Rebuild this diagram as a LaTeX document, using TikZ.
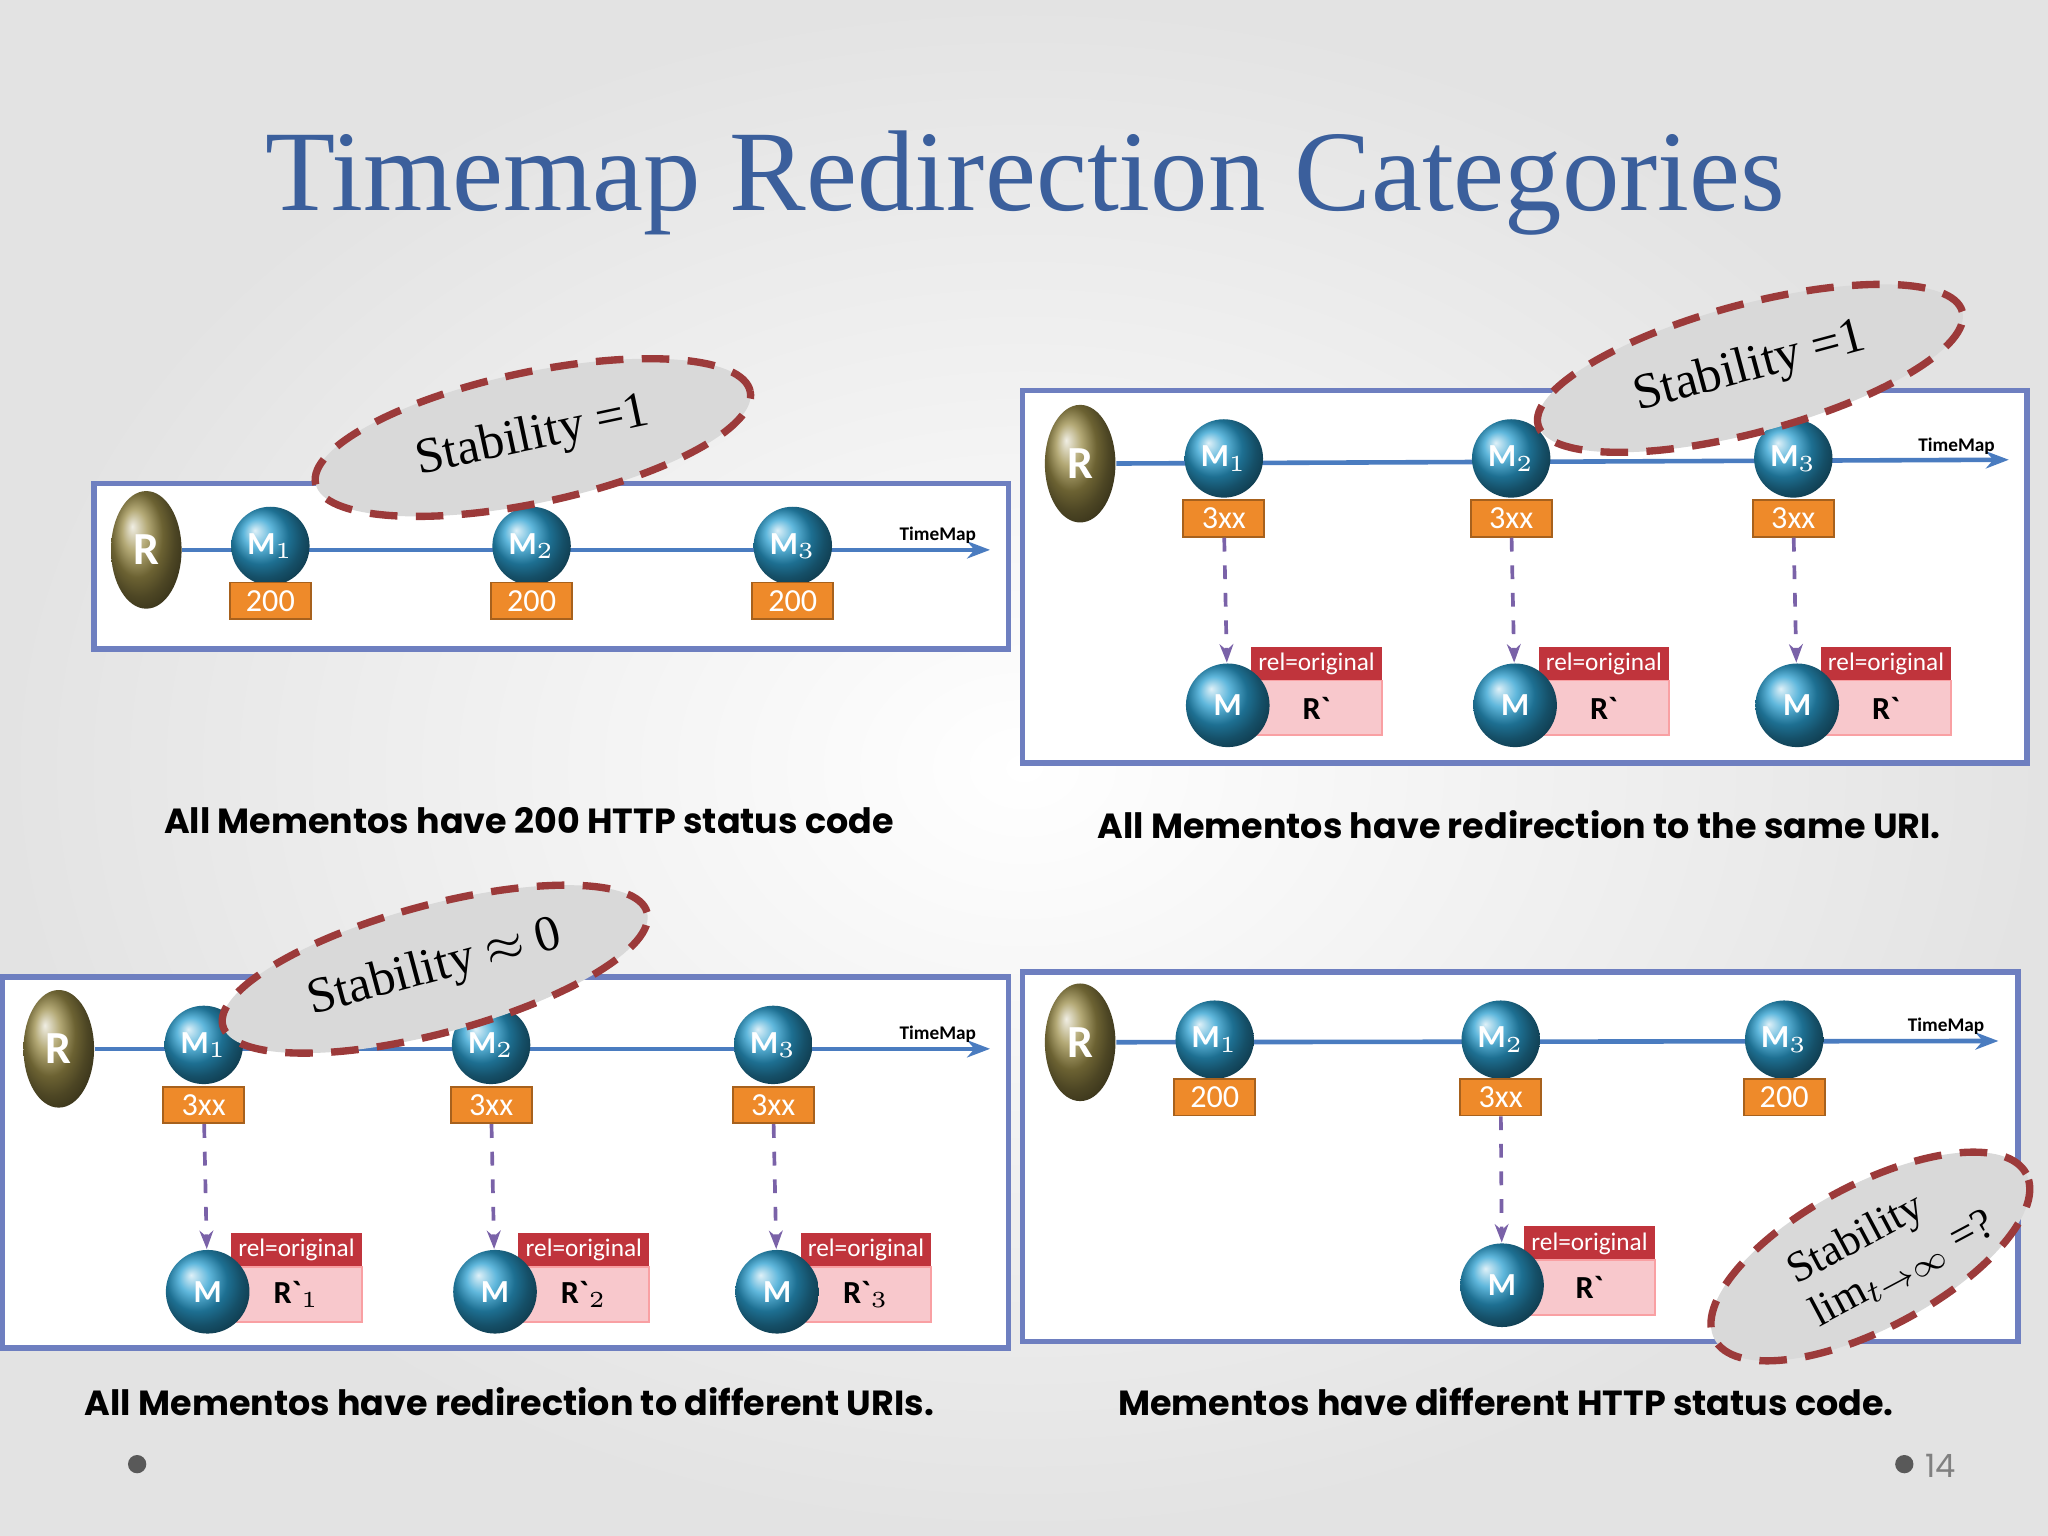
\documentclass[tikz,border=0pt]{standalone}
\usepackage{fontspec}
\setmainfont{Liberation Serif}
\newfontfamily\capf{Poppins}
\newfontfamily\lblf{Carlito}
\usetikzlibrary{arrows.meta,shapes.geometric}
\definecolor{titleblue}{HTML}{3B5F9C}
\definecolor{olive}{HTML}{9A8C48}
\definecolor{mblue}{HTML}{2A9FD0}
\definecolor{orng}{HTML}{EE8A2A}
\definecolor{lineblue}{HTML}{4A7CC0}
\definecolor{frameblue}{HTML}{6E7FC0}
\definecolor{relred}{HTML}{C0343C}
\definecolor{pinkbox}{HTML}{F8C8CC}
\definecolor{dashred}{HTML}{9C3A3A}
\definecolor{arrowpurple}{HTML}{7A62A8}
\tikzset{
 x=0.01cm,y=-0.01cm,
 panel/.style={draw=frameblue,line width=1.2pt,fill=white},
 rnode/.style={ellipse,minimum width=0.54cm,minimum height=0.9cm,inner sep=0,shading=ball,ball color=olive,text=white,font=\lblf\bfseries\fontsize{10}{10}\selectfont},
 mnode/.style={circle,minimum size=0.6cm,inner sep=0,shading=ball,ball color=mblue,text=white,font=\lblf\bfseries\fontsize{7}{7}\selectfont},
 mbig/.style={circle,minimum size=0.64cm,inner sep=0,shading=ball,ball color=mblue,text=white,font=\lblf\bfseries\fontsize{7}{7}\selectfont},
 code/.style={fill=orng,draw=orng!70!black,minimum width=0.62cm,minimum height=0.28cm,inner sep=0,text=white,font=\lblf\fontsize{7}{7}\selectfont},
 tline/.style={lineblue,line width=1pt,-{Stealth[length=5pt]}},
 tmlab/.style={font=\lblf\bfseries\fontsize{4.2}{4.2}\selectfont},
 relbox/.style={fill=relred,minimum width=1cm,minimum height=0.26cm,inner sep=0,text=white,font=\lblf\fontsize{5.5}{5.5}\selectfont},
 pbox/.style={fill=pinkbox,draw=pinkbox!80!red,minimum width=1cm,minimum height=0.42cm,inner sep=0,font=\lblf\bfseries\fontsize{7}{7}\selectfont},
 redir/.style={arrowpurple,dashed,line width=0.8pt,-{Stealth[length=4pt]}},
 stab/.style={ellipse,draw=dashred,dash pattern=on 6pt off 4pt,line width=1.6pt,fill=gray!30,inner sep=0},
 stabtext/.style={font=\fontsize{11}{11}\selectfont},
 captext/.style={font=\capf\fontsize{7.6}{7.6}\selectfont\bfseries}
}
\begin{document}
\begin{tikzpicture}
\shade[inner color=white,outer color=gray!22] (0,0) rectangle (1568,1176);
\useasboundingbox (0,0) rectangle (1568,1176);
\node[text=titleblue,font=\fontsize{25}{25}\selectfont] (title) at (785,140) {Timemap Redirection Categories};
% Panel 1
\draw[panel] (72,370) rectangle (772,497);
\node[rnode] (r1) at (112,421) {R};
\coordinate (e1) at (758,421);
\draw[tline] (r1) -- (e1);
\node[tmlab] (tm1) at (718,410) {TimeMap};
\foreach \x/\i in {207/1,407/2,607/3}{
 \node[mnode] (p1m\i) at (\x,418) {M$_{\i}$};
 \node[code] (p1c\i) at (\x,460) {200};}
\node[stab,minimum width=3.4cm,minimum height=1cm,rotate=12] (s1) at (408,335) {};
\node[rotate=12,stabtext] (s1t) at (408,335) {Stability =1};
\node[captext] (c1) at (405,628) {All Mementos have 200 HTTP status code};
% Panel 2
\draw[panel] (783,299) rectangle (1552,584);
\node[rnode] (r2) at (827,355) {R};
\coordinate (e2) at (1538,352);
\draw[tline] (r2) -- (e2);
\node[tmlab] (tm2) at (1498,342) {TimeMap};
\foreach \x/\i in {937/1,1157/2,1373/3}{
 \node[mnode] (p2m\i) at (\x,351) {M$_{\i}$};
 \node[code] (p2c\i) at (\x,397) {3xx};
 \node[relbox] (p2r\i) at (\x+71,508) {rel=original};
 \node[pbox] (p2p\i) at (\x+71,542) {R`};
 \node[mbig] (p2b\i) at (\x+3,540) {M};
 \draw[redir] (p2c\i) -- (p2b\i);}
\node[stab,minimum width=3.36cm,minimum height=0.98cm,rotate=15] (s2) at (1340,282) {};
\node[rotate=15,stabtext] (s2t) at (1340,282) {Stability =1};
\node[captext] (c2) at (1163,631) {All Mementos have redirection to the same URI.};
% Panel 3
\draw[panel] (2,748) rectangle (772,1032);
\node[rnode] (r3) at (45,803) {R};
\coordinate (e3) at (758,803);
\draw[tline] (r3) -- (e3);
\node[tmlab] (tm3) at (718,792) {TimeMap};
\foreach \x/\i in {156/1,376/2,592/3}{
 \node[mnode] (p3m\i) at (\x,800) {M$_{\i}$};
 \node[code] (p3c\i) at (\x,846) {3xx};
 \node[relbox] (p3r\i) at (\x+71,957) {rel=original};
 \node[pbox] (p3p\i) at (\x+71,991) {R`$_{\i}$};
 \node[mbig] (p3b\i) at (\x+3,989) {M};
 \draw[redir] (p3c\i) -- (p3b\i);}
\node[stab,minimum width=3.36cm,minimum height=0.98cm,rotate=15] (s3) at (333,742) {};
\node[rotate=15,stabtext] (s3t) at (333,742) {Stability $\approx$ 0};
\node[captext] (c3) at (390,1073) {All Mementos have redirection to different URIs.};
% Panel 4
\draw[panel] (783,744) rectangle (1545,1027);
\node[rnode] (r4) at (827,798) {R};
\coordinate (e4) at (1530,797);
\draw[tline] (r4) -- (e4);
\node[tmlab] (tm4) at (1490,786) {TimeMap};
\node[mnode] (p4m1) at (930,796) {M$_1$};
\node[code] (p4c1) at (930,840) {200};
\node[mnode] (p4m2) at (1149,796) {M$_2$};
\node[code] (p4c2) at (1149,840) {3xx};
\node[mnode] (p4m3) at (1366,796) {M$_3$};
\node[code] (p4c3) at (1366,840) {200};
\node[relbox] (p4r) at (1217,952) {rel=original};
\node[pbox] (p4p) at (1217,986) {R`};
\node[mbig] (p4b) at (1150,984) {M};
\draw[redir] (p4c2) -- (p4b);
\node[stab,minimum width=2.7cm,minimum height=1.1cm,rotate=28] (s4) at (1432,962) {};
\node[rotate=28,align=left,font=\fontsize{9.5}{10.5}\selectfont] (s4t) at (1448,955) {Stability\\ $\lim_{t\to\infty}$ =?};
\node[captext] (c4) at (1153,1073) {Mementos have different HTTP status code.};
% footer
\fill[gray!70!black] (105,1121) circle (0.07cm);
\fill[gray!70!black] (1458,1121) circle (0.07cm);
\node[text=gray,font=\capf\fontsize{7}{7}\selectfont] (pg) at (1486,1122) {14};
\end{tikzpicture}
\end{document}
